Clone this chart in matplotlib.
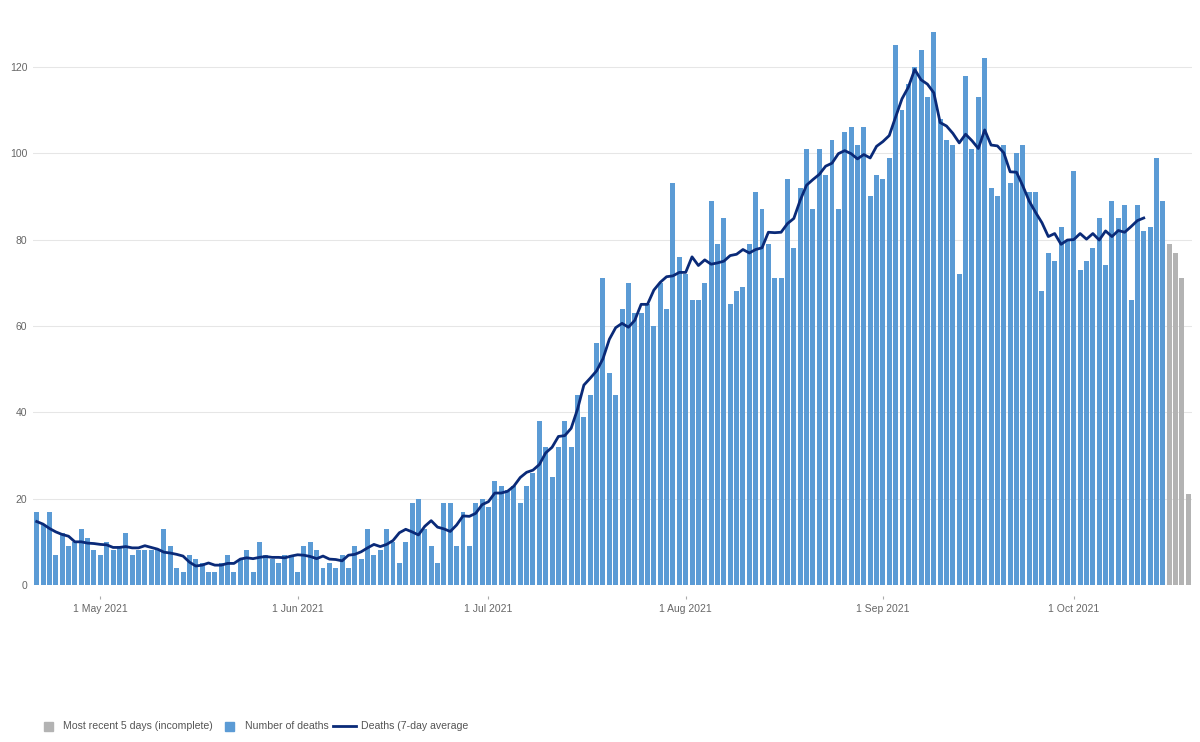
import pandas as pd
import matplotlib
matplotlib.use("Agg")
import matplotlib.pyplot as plt
import matplotlib.dates as mdates
from matplotlib.patches import Rectangle
from matplotlib.lines import Line2D

plt.rcParams['font.family'] = ['Liberation Sans', 'DejaVu Sans']

# daily deaths, 21 Apr 2021 onwards
deaths = [
    17, 14, 17, 7, 12, 9, 10, 13, 11, 8,
    7, 10, 8, 9, 12, 7, 8, 8, 8, 8,
    13, 9, 4, 3, 7, 6, 5, 3, 3, 5,
    7, 3, 6, 8, 3, 10, 7, 6, 5, 7,
    7, 3, 9, 10, 8, 4, 5, 4, 7, 4,
    9, 6, 13, 7, 8, 13, 10, 5, 10, 19,
    20, 13, 9, 5, 19, 19, 9, 17, 9, 19,
    20, 18, 24, 23, 22, 23, 19, 23, 26, 38,
    32, 25, 32, 38, 32, 44, 39, 44, 56, 71,
    49, 44, 64, 70, 63, 63, 65, 60, 70, 64,
    93, 76, 72, 66, 66, 70, 89, 79, 85, 65,
    68, 69, 79, 91, 87, 79, 71, 71, 94, 78,
    92, 101, 87, 101, 95, 103, 87, 105, 106, 102,
    106, 90, 95, 94, 99, 125, 110, 116, 120, 124,
    113, 128, 108, 103, 102, 72, 118, 101, 113, 122,
    92, 90, 102, 93, 100, 102, 91, 91, 68, 77,
    75, 83, 80, 96, 73, 75, 78, 85, 74, 89,
    85, 88, 66, 88, 82, 83, 99, 89,
]
# most recent days, incomplete
recent = [79, 77, 71, 21]

# 7-day average as drawn
avg_7day = [
    14.7, 14.1, 13.1, 12.3, 11.7, 11.3, 10.0, 10.0, 9.7, 9.6,
    9.4, 9.3, 8.7, 8.7, 8.9, 8.6, 8.6, 9.1, 8.7, 8.3,
    7.6, 7.4, 7.1, 6.7, 5.3, 4.4, 4.6, 5.1, 4.6, 4.6,
    5.0, 5.0, 6.0, 6.3, 6.1, 6.4, 6.6, 6.4, 6.4, 6.3,
    6.7, 7.0, 6.9, 6.6, 6.1, 6.7, 6.0, 5.9, 5.6, 6.9,
    7.1, 7.7, 8.6, 9.4, 8.9, 9.4, 10.3, 12.1, 12.9, 12.3,
    11.6, 13.6, 14.9, 13.4, 13.0, 12.4, 13.9, 16.0, 15.9, 16.6,
    18.6, 19.3, 21.3, 21.3, 21.7, 22.9, 24.9, 26.1, 26.6, 27.9,
    30.6, 31.9, 34.4, 34.6, 36.3, 40.7, 46.3, 47.9, 49.6, 52.4,
    56.9, 59.6, 60.6, 59.7, 61.3, 65.0, 65.0, 68.3, 70.1, 71.4,
    71.6, 72.4, 72.4, 76.0, 74.0, 75.3, 74.3, 74.6, 75.0, 76.3,
    76.6, 77.7, 76.9, 77.7, 78.1, 81.7, 81.6, 81.7, 83.7, 84.9,
    89.1, 92.6, 93.9, 95.1, 97.0, 97.7, 99.9, 100.6, 99.9, 98.7,
    99.7, 98.9, 101.6, 102.7, 104.1, 108.4, 112.6, 115.3, 119.4, 117.0,
    116.0, 114.0, 107.1, 106.3, 104.6, 102.4, 104.4, 102.9, 101.1, 105.4,
    101.9, 101.7, 100.1, 95.7, 95.6, 92.4, 88.9, 86.3, 83.9, 80.7,
    81.4, 78.9, 79.9, 80.0, 81.4, 80.1, 81.4, 79.9, 82.0, 80.7,
    82.1, 81.7, 83.0, 84.4, 85.0,
]

y_ticks = [0, 20, 40, 60, 80, 100, 120]

BLUE = '#5b9bd5'
GREY = '#b3b3b3'
NAVY = '#0a2a78'

dates = pd.date_range('2021-04-21', periods=len(deaths) + len(recent), freq='D')
d_main = dates[:len(deaths)]
d_recent = dates[len(deaths):]
d_avg = dates[:len(avg_7day)]

fig = plt.figure(figsize=(12, 7.42), dpi=100)
ax = fig.add_axes([33 / 1200, 157 / 742, 1159 / 1200, 560 / 742])

ax.bar(d_main, deaths, width=0.78, color=BLUE, zorder=2)
ax.bar(d_recent, recent, width=0.78, color=GREY, zorder=2)
ax.plot(d_avg, avg_7day, color=NAVY, linewidth=2.0, zorder=3)

ax.set_ylim(0, 129.7)
ax.set_xlim(dates[0] - pd.Timedelta(hours=14), dates[-1] + pd.Timedelta(hours=14))
ax.set_yticks(y_ticks)
ax.yaxis.grid(True, color='#e6e6e6', linewidth=0.75, zorder=0)
ax.set_axisbelow(True)

for s in ['top', 'right', 'left']:
    ax.spines[s].set_visible(False)
ax.spines['bottom'].set_position(('outward', 8))
ax.spines['bottom'].set_color('none')

ax.xaxis.set_major_locator(mdates.MonthLocator(bymonthday=1))
ax.xaxis.set_major_formatter(mdates.DateFormatter('%-d %b %Y'))
ax.tick_params(axis='x', length=2.2, width=0.8, color='#aaaaaa', pad=3.5,
               labelsize=7.5, labelcolor='#666666')
ax.tick_params(axis='y', length=0, pad=4, labelsize=7.5, labelcolor='#666666')

# legend along the bottom
ly = 16 / 742
sq_w, sq_h = 9 / 1200, 9 / 742
fig.add_artist(Rectangle((44 / 1200, ly - sq_h / 2), sq_w, sq_h,
                         transform=fig.transFigure, color=GREY))
fig.text(63 / 1200, ly, 'Most recent 5 days (incomplete)', va='center',
         fontsize=7.6, color='#555555')
fig.add_artist(Rectangle((225 / 1200, ly - sq_h / 2), sq_w, sq_h,
                         transform=fig.transFigure, color=BLUE))
fig.text(245 / 1200, ly, 'Number of deaths', va='center',
         fontsize=7.6, color='#555555')
fig.add_artist(Line2D([333 / 1200, 356 / 1200], [ly, ly],
                      transform=fig.transFigure, color=NAVY, linewidth=2.0))
fig.text(361 / 1200, ly, 'Deaths (7-day average', va='center',
         fontsize=7.6, color='#555555')

fig.savefig('out.png', dpi=100, facecolor='white')
